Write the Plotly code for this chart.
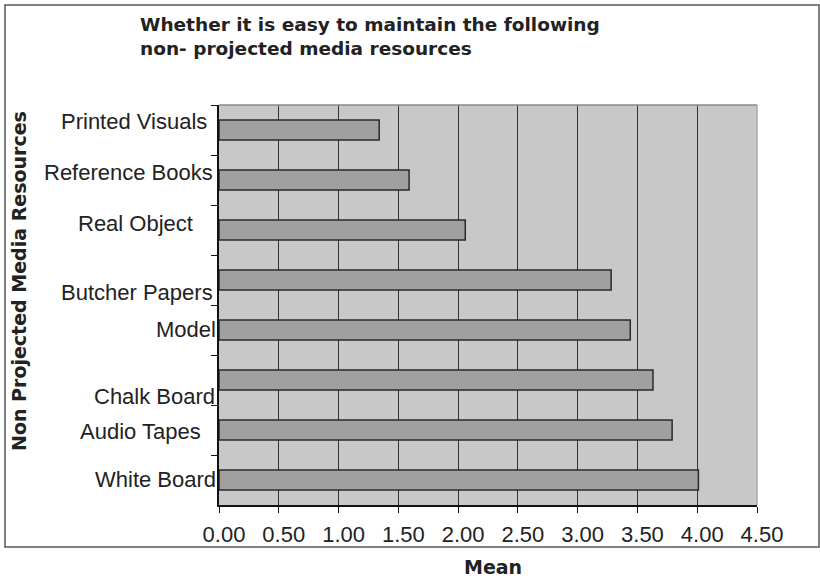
import plotly.graph_objects as go

# Mean rating per non-projected media resource (top to bottom)
categories = [
    "Printed Visuals",
    "Reference Books",
    "Real Object",
    "Butcher Papers",
    "Model",
    "Chalk Board",
    "Audio Tapes",
    "White Board",
]
means = [1.34, 1.59, 2.06, 3.28, 3.44, 3.63, 3.79, 4.01]

x_ticks = [0, 0.5, 1.0, 1.5, 2.0, 2.5, 3.0, 3.5, 4.0, 4.5]

title_text = "Whether it is easy to maintain the following<br>non- projected media resources"
x_title = "Mean"
y_title = "Non Projected Media Resources"

# pixel layout of the plotting area
W, H = 820, 578
L, R, T, B = 219, 63, 105, 73
PW, PH = W - L - R, H - T - B

# nudges for the category labels (pixels): (x, y)
label_nudge = [(-10, 9), (-4, 8), (-24, 7), (-4, -12), (-1, 1), (-2, -16), (-16, -1), (-1, 1)]

fig = go.Figure(
    go.Bar(
        x=means,
        y=categories,
        orientation="h",
        width=0.4,
        marker=dict(color="#a0a0a0", line=dict(color="#2a2a2a", width=1.5)),
        hoverinfo="x+y",
    )
)

annotations = []
for cat, (dx, dy) in zip(categories, label_nudge):
    annotations.append(
        dict(
            text=cat,
            x=0,
            xref="paper",
            y=cat,
            yref="y",
            xanchor="right",
            yanchor="middle",
            xshift=dx,
            yshift=dy,
            showarrow=False,
            font=dict(family="Liberation Sans, Arial, sans-serif", size=22, color="#222"),
        )
    )

annotations.append(
    dict(
        text=f"<b>{y_title}</b>",
        x=(19 - L) / PW,
        xref="paper",
        y=(H - B - 281) / PH,
        yref="paper",
        xanchor="center",
        yanchor="middle",
        textangle=-90,
        showarrow=False,
        font=dict(family="DejaVu Sans, sans-serif", size=19, color="#222"),
    )
)
annotations.append(
    dict(
        text=f"<b>{x_title}</b>",
        x=(493 - L) / PW,
        xref="paper",
        y=(H - B - 567) / PH,
        yref="paper",
        xanchor="center",
        yanchor="middle",
        showarrow=False,
        font=dict(family="DejaVu Sans, sans-serif", size=19, color="#222"),
    )
)

def px_x(p):
    return (p - L) / PW

def px_y(p):
    return (H - B - p) / PH

shapes = [
    # outer chart frame
    dict(
        type="rect", xref="paper", yref="paper",
        x0=px_x(5), x1=px_x(819), y0=px_y(5), y1=px_y(547),
        line=dict(color="#555", width=1.5), layer="below",
    ),
    # light frame on top/right of the plotting area
    dict(
        type="line", xref="paper", yref="paper",
        x0=0, x1=1, y0=1, y1=1, line=dict(color="#8a8a8a", width=1.5),
    ),
    dict(
        type="line", xref="paper", yref="paper",
        x0=1, x1=1, y0=0, y1=1, line=dict(color="#a8a8a8", width=1.5),
    ),
]

fig.update_layout(
    width=W,
    height=H,
    margin=dict(l=L, r=R, t=T, b=B),
    paper_bgcolor="white",
    plot_bgcolor="#c8c8c8",
    showlegend=False,
    bargap=0.6,
    title=dict(
        text=f"<b>{title_text}</b>",
        xref="container",
        yref="container",
        x=140 / W,
        xanchor="left",
        y=1 - 31 / H,
        yanchor="top",
        font=dict(family="DejaVu Sans, sans-serif", size=18.5, color="#222"),
    ),
    xaxis=dict(
        range=[0, 4.5],
        tickvals=x_ticks,
        tickformat=".2f",
        ticks="outside",
        ticklen=6,
        tickwidth=1,
        tickcolor="#111",
        showgrid=True,
        gridcolor="#333",
        gridwidth=1,
        zeroline=False,
        showline=True,
        linecolor="#111",
        linewidth=1.5,
        tickfont=dict(family="Liberation Sans, Arial, sans-serif", size=22, color="#222"),
        ticklabelshift=5,
        ticklabelstandoff=3,
        fixedrange=True,
    ),
    yaxis=dict(
        categoryorder="array",
        categoryarray=categories,
        autorange="reversed",
        showticklabels=False,
        ticks="outside",
        tickson="boundaries",
        ticklen=6,
        tickwidth=1,
        tickcolor="#111",
        showgrid=False,
        zeroline=False,
        showline=True,
        linecolor="#111",
        linewidth=1.5,
        fixedrange=True,
    ),
    annotations=annotations,
    shapes=shapes,
)

fig.write_html("out.html")
